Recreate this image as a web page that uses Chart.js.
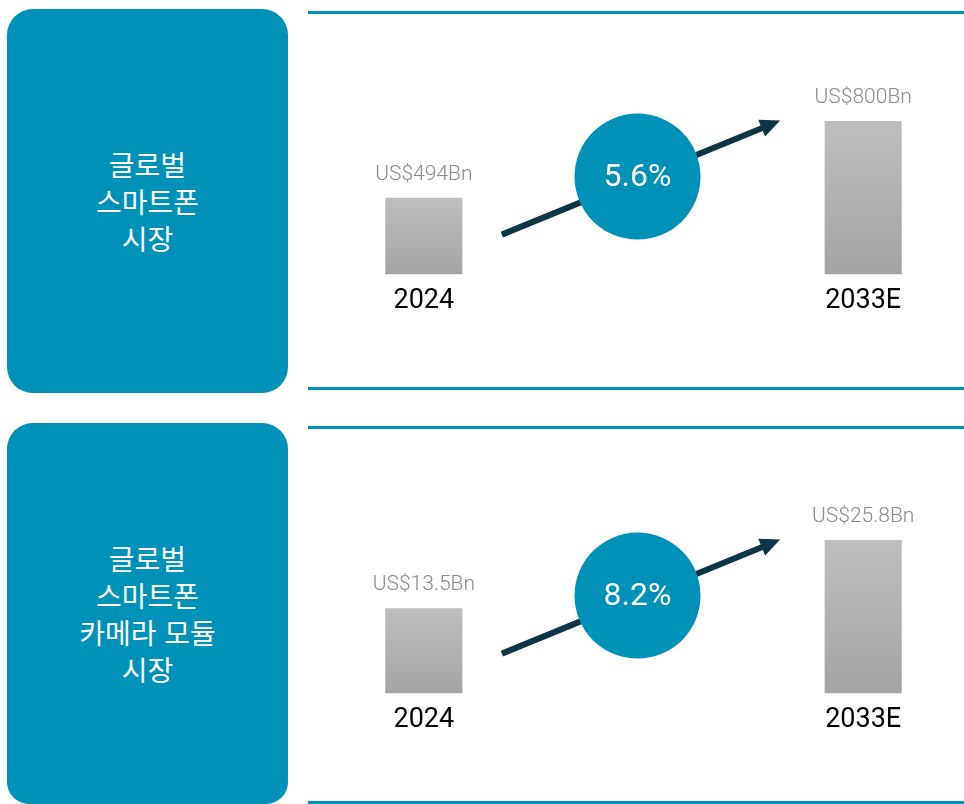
<!DOCTYPE html>
<html lang="ko">
<head>
<meta charset="utf-8">
<title>글로벌 스마트폰 시장</title>
<script src="https://cdn.jsdelivr.net/npm/chart.js@4.4.1/dist/chart.umd.min.js"></script>
<style>
    html, body {
        margin: 0;
        padding: 0;
        width: 964px;
        height: 804px;
        overflow: hidden;
        background: #ffffff;
    }
    .box {
        position: absolute;
        left: 7px;
        width: 281px;
        background: #0091b9;
        border-radius: 26px;
        display: flex;
        align-items: center;
        justify-content: center;
        text-align: center;
        color: #ffffff;
        font-family: "Noto Sans CJK KR", "Noto Sans", sans-serif;
        font-size: 28px;
        line-height: 37px;
    }
    .rule {
        position: absolute;
        left: 308px;
        width: 656px;
        height: 3px;
        background: #0091b9;
    }
    .chart-wrap {
        position: absolute;
        left: 300px;
        width: 673px;
    }
</style>
</head>
<body>
<div class="box" style="top:9px;height:384px;">글로벌<br>스마트폰<br>시장</div>
<div class="box" style="top:423px;height:381px;border-bottom-left-radius:22px;border-bottom-right-radius:22px;">글로벌<br>스마트폰<br>카메라 모듈<br>시장</div>

<div class="rule" style="top:11px;"></div>
<div class="rule" style="top:387px;"></div>
<div class="rule" style="top:426px;"></div>
<div class="rule" style="top:801px;"></div>

<div class="chart-wrap" style="top:0;height:400px;"><canvas id="phoneChart"></canvas></div>
<div class="chart-wrap" style="top:419px;height:385px;"><canvas id="cameraChart"></canvas></div>

<script>
// categories (middle slot holds the CAGR bubble)
const years = ['2024', 'CAGR', '2033E'];

// global smartphone market, US$ Bn
const phoneMarket = [494, null, 800];
const phoneValueLabels = ['US$494Bn', '', 'US$800Bn'];
const phoneCagr = '5.6%';

// global smartphone camera module market, US$ Bn
const cameraMarket = [13.5, null, 25.8];
const cameraValueLabels = ['US$13.5Bn', '', 'US$25.8Bn'];
const cameraCagr = '8.2%';

const TEAL = '#0091b9';
const NAVY = '#0e3448';

// arrow + bubble + value labels on top of the bars
const growthPlugin = {
    id: 'growth',
    afterDatasetsDraw(chart, args, opts) {
        const ctx = chart.ctx;
        const bars = chart.getDatasetMeta(0).data;
        const x = chart.scales.x;
        const base = chart.chartArea.bottom;
        const first = bars[0];
        const last = bars[2];

        // value labels
        ctx.save();
        ctx.fillStyle = '#8a8a8a';
        ctx.font = '300 21px Roboto';
        ctx.textAlign = 'center';
        ctx.textBaseline = 'middle';
        opts.labels.forEach((txt, i) => {
            if (!txt) return;
            ctx.fillText(txt, bars[i].x, bars[i].y - 23);
        });

        // arrow
        const sx = first.x + 78, sy = base - 40;
        const ex = last.x - 83, ey = sy - 114;
        const ang = Math.atan2(ey - sy, ex - sx);
        const head = 20;
        ctx.strokeStyle = NAVY;
        ctx.fillStyle = NAVY;
        ctx.lineWidth = 6;
        ctx.beginPath();
        ctx.moveTo(sx, sy);
        ctx.lineTo(ex - Math.cos(ang) * (head - 2), ey - Math.sin(ang) * (head - 2));
        ctx.stroke();
        ctx.beginPath();
        ctx.moveTo(ex, ey);
        ctx.lineTo(ex - head * Math.cos(ang) + 9 * Math.sin(ang), ey - head * Math.sin(ang) - 9 * Math.cos(ang));
        ctx.lineTo(ex - head * Math.cos(ang) - 9 * Math.sin(ang), ey - head * Math.sin(ang) + 9 * Math.cos(ang));
        ctx.closePath();
        ctx.fill();

        // CAGR bubble
        const cx = x.getPixelForValue(1) - 6;
        const cy = base - 98;
        ctx.fillStyle = TEAL;
        ctx.beginPath();
        ctx.arc(cx, cy, 63, 0, Math.PI * 2);
        ctx.fill();
        ctx.fillStyle = '#ffffff';
        ctx.font = '32px Roboto';
        ctx.fillText(opts.cagr, cx, cy + 1);
        ctx.restore();
    }
};

function barGradient(context) {
    const chart = context.chart;
    const value = context.raw;
    if (!chart.chartArea || value == null) return '#b0b0b0';
    const top = chart.scales.y.getPixelForValue(value);
    const g = chart.ctx.createLinearGradient(0, top, 0, chart.chartArea.bottom);
    g.addColorStop(0, '#bebebe');
    g.addColorStop(1, '#a4a4a4');
    return g;
}

function createPanelChart(canvasId, values, valueLabels, cagr, yMin, yMax, padBottom) {
    const ctx = document.getElementById(canvasId).getContext('2d');
    return new Chart(ctx, {
        type: 'bar',
        data: {
            labels: years,
            datasets: [{
                data: values,
                base: yMin,
                backgroundColor: barGradient,
                borderWidth: 0,
                categoryPercentage: 1,
                barPercentage: 0.351
            }]
        },
        options: {
            responsive: true,
            maintainAspectRatio: false,
            animation: false,
            layout: {
                padding: { top: 121, left: 14, right: 0, bottom: padBottom }
            },
            plugins: {
                legend: { display: false },
                tooltip: { enabled: false },
                growth: { labels: valueLabels, cagr: cagr }
            },
            scales: {
                x: {
                    grid: { display: false, drawTicks: false },
                    border: { display: false },
                    ticks: {
                        color: '#000000',
                        font: { family: 'Roboto', size: 27 },
                        padding: 10,
                        maxRotation: 0,
                        callback: function(value, index) {
                            return index === 1 ? '' : years[index];
                        }
                    }
                },
                y: {
                    display: false,
                    min: yMin,
                    max: yMax
                }
            }
        },
        plugins: [growthPlugin]
    });
}

createPanelChart('phoneChart', phoneMarket, phoneValueLabels, phoneCagr, 188, 800, 73);
createPanelChart('cameraChart', cameraMarket, cameraValueLabels, cameraCagr, -1.9, 25.8, 58);
</script>
</body>
</html>
